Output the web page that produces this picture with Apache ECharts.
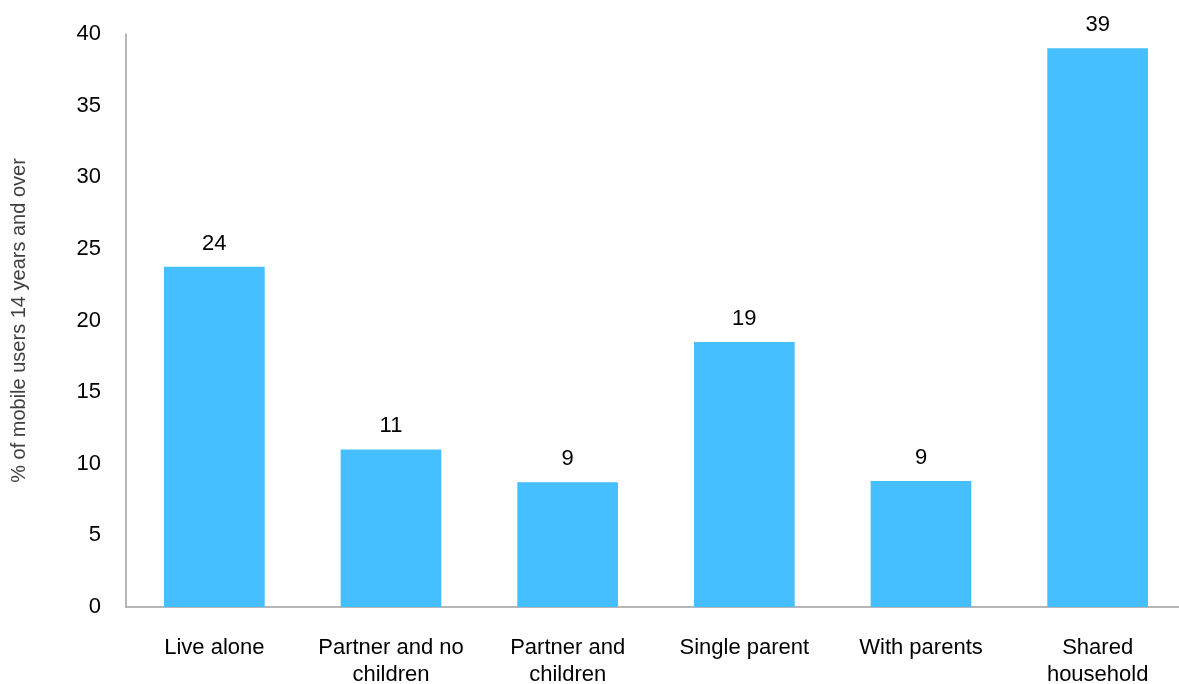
<!DOCTYPE html>
<html><head><meta charset="utf-8">
<script src="https://cdn.jsdelivr.net/npm/echarts@6/dist/echarts.min.js"></script>
<style>html,body{margin:0;padding:0;background:#fff}#c{width:1179px;height:684px}</style>
</head><body><div id="c"></div>
<script>
const categories = ['Live alone', 'Partner and no\nchildren', 'Partner and\nchildren', 'Single parent', 'With parents', 'Shared\nhousehold'];
const values = [23.75, 11.0, 8.7, 18.5, 8.8, 39.0];
const yTicks = { min: 0, max: 40, interval: 5 };
const yName = '% of mobile users 14 years and over';

const chart = echarts.init(document.getElementById('c'));
chart.setOption({
  animation: false,
  textStyle: { fontFamily: 'Liberation Sans, Arial, sans-serif' },
  grid: { left: 126, right: -7, top: 34, bottom: 77, containLabel: false, outerBoundsMode: 'none' },
  xAxis: {
    type: 'category', data: categories,
    axisLine: { lineStyle: { color: '#a0a0a0', width: 1.5 } },
    axisTick: { show: false },
    axisLabel: { color: '#000', fontSize: 22, margin: 27, lineHeight: 27, interval: 0 }
  },
  yAxis: {
    type: 'value', min: yTicks.min, max: yTicks.max, interval: yTicks.interval,
    name: yName, nameLocation: 'middle', nameGap: 97, nameRotate: 90,
    nameTextStyle: { color: '#404040', fontSize: 20 },
    axisLine: { show: true, lineStyle: { color: '#a0a0a0', width: 1.5 } },
    axisTick: { show: false },
    splitLine: { show: false },
    axisLabel: { color: '#000', fontSize: 22, margin: 25 }
  },
  series: [{
    type: 'bar', data: values, barCategoryGap: '43%',
    itemStyle: { color: '#45BFFF' },
    label: { show: true, position: 'top', distance: 12, color: '#000', fontSize: 22,
      formatter: p => Math.round(p.value) }
  }]
});
</script></body></html>
